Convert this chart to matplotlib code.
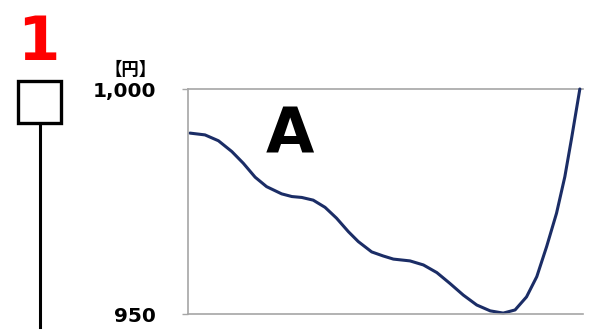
import matplotlib.pyplot as plt
from matplotlib.patches import Rectangle
from matplotlib.lines import Line2D

# price path (x in % of the plot width, y in yen)
x_pos = [0.5, 4.3, 7.7, 11.1, 14.0, 17.0, 19.9, 23.7, 26.3, 28.8, 31.7, 34.7,
         37.6, 40.6, 43.1, 46.5, 49.4, 52.0, 56.2, 59.6, 63.0, 66.3, 69.7, 73.1,
         76.5, 79.8, 82.8, 85.7, 88.3, 90.8, 93.3, 95.4, 97.1, 99.2]
price = [990.2, 989.8, 988.5, 986.1, 983.5, 980.4, 978.3, 976.7, 976.1, 975.9, 975.3, 973.7,
         971.3, 968.3, 966.1, 963.8, 962.9, 962.2, 961.8, 960.9, 959.2, 956.8, 954.2, 952.0,
         950.7, 950.2, 950.9, 953.8, 958.3, 965.0, 972.4, 980.5, 989.0, 1000.0]
y_ticks = [950, 1000]
y_labels = ['950', '1,000']

W, H = 600, 335
fig = plt.figure(figsize=(6, 3.35), dpi=100)

ax = fig.add_axes([188 / W, 21 / H, 395 / W, 225 / H])
ax.plot(x_pos, price, color='#1b2d66', lw=2.2, solid_capstyle='round',
        solid_joinstyle='round', clip_on=False)
ax.set_xlim(0, 100)
ax.set_ylim(950, 1000)
ax.set_yticks(y_ticks)
ax.set_yticklabels(y_labels, fontsize=14.5, fontweight='bold')
ax.set_xticks([])
ax.tick_params(axis='y', length=4.3, width=1, color='#a6a6a6', pad=18.5)
ax.axhline(1000, color='#a6a6a6', lw=1.2, clip_on=False, zorder=1)
for s in ['right', 'top']:
    ax.spines[s].set_visible(False)
for s in ['left', 'bottom']:
    ax.spines[s].set_color('#a6a6a6')
    ax.spines[s].set_linewidth(1.2)
ax.text(0.258, 0.795, 'A', transform=ax.transAxes, fontsize=45, fontweight='bold',
        ha='center', va='center')

fig.text(131 / W, 1 - 70 / H, '【円】', fontsize=12.5, fontweight='bold', ha='center', va='center',
         family=['Noto Sans CJK JP', 'DejaVu Sans'])

# single candle on the left
fig.text(38 / W, 1 - 43 / H, '1', color='#ff0000', fontsize=44, fontweight='bold',
         ha='center', va='center')
fig.add_artist(Line2D([40 / W, 40 / W], [1 - 124 / H, 1 - 327 / H], color='black', lw=2.2,
                      transform=fig.transFigure))
fig.add_artist(Rectangle((18 / W, 1 - 123 / H), 43 / W, 42 / H, facecolor='white',
                         edgecolor='black', lw=2.4, transform=fig.transFigure))

fig.savefig('out.png', dpi=100)
